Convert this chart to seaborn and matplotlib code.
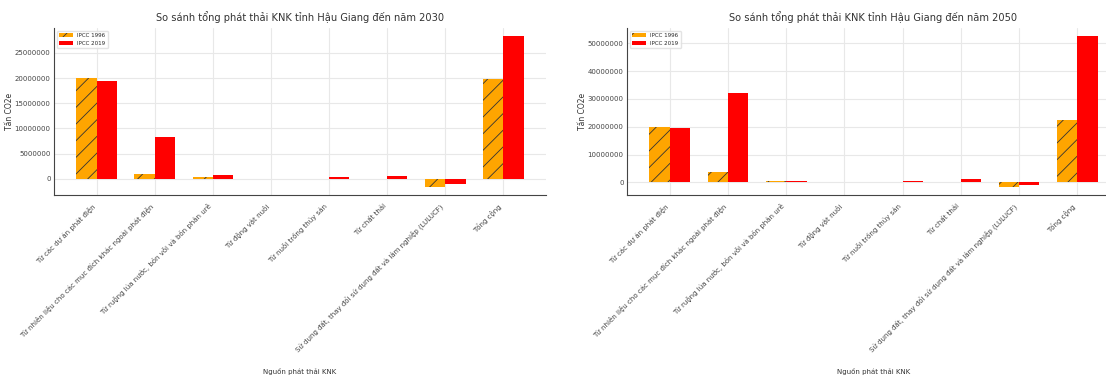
import numpy as np
import pandas as pd
import matplotlib
matplotlib.use('Agg')
import matplotlib.pyplot as plt
from matplotlib.ticker import FuncFormatter
import seaborn as sns

# data
categories = ['Từ các dự án phát điện',
              'Từ nhiên liệu cho các mục đích khác ngoài phát điện',
              'Từ ruộng lúa nước, bón vôi và bón phân urê',
              'Từ động vật nuôi',
              'Từ nuôi trồng thủy sản',
              'Từ chất thải',
              'Sử dụng đất, thay đổi sử dụng đất và lâm nghiệp (LULUCF)',
              'Tổng cộng']
methods = ['IPCC 1996', 'IPCC 2019']
ipcc1996_2030 = [20000000, 1000000, 400000, 50000, 0, 0, -1700000, 19750000]
ipcc2019_2030 = [19500000, 8400000, 800000, 0, 300000, 500000, -1100000, 28450000]
ipcc1996_2050 = [20000000, 3600000, 400000, 300000, 0, 0, -1800000, 22300000]
ipcc2019_2050 = [19500000, 32300000, 500000, 300000, 600000, 1300000, -1100000, 52800000]
titles = ['So sánh tổng phát thải KNK tỉnh Hậu Giang đến năm 2030',
          'So sánh tổng phát thải KNK tỉnh Hậu Giang đến năm 2050']

sns.set_style('whitegrid', {'axes.edgecolor': '#444444', 'grid.color': '#e8e8e8'})
plt.rcParams['font.family'] = ['DejaVu Sans']
plt.rcParams['hatch.linewidth'] = 0.6
plt.rcParams['hatch.color'] = '#333333'

fig = plt.figure(figsize=(11.06, 3.78), dpi=100)
ax1 = fig.add_axes([54/1106, 1-195/378, 492/1106, 167/378])
ax2 = fig.add_axes([627/1106, 1-195/378, 493/1106, 167/378])

panels = [(ax1, ipcc1996_2030, ipcc2019_2030, titles[0]),
          (ax2, ipcc1996_2050, ipcc2019_2050, titles[1])]

for ax, v96, v19, title in panels:
    df = pd.DataFrame({'Nguồn': categories * 2,
                       'Giá trị': v96 + v19,
                       'Phương pháp': [methods[0]] * len(categories) + [methods[1]] * len(categories)})
    sns.barplot(data=df, x='Nguồn', y='Giá trị', hue='Phương pháp', palette=['orange', 'red'],
                width=0.7, ax=ax, legend=False, saturation=1, edgecolor='none', linewidth=0)
    for p in ax.containers[0].patches:
        p.set_hatch('//')
        p.set_edgecolor('#333333')
        p.set_linewidth(0)
    ax.legend(handles=list(ax.containers[:2]), labels=methods, loc='upper left',
              fontsize=4, frameon=True, framealpha=0.8, edgecolor='#dddddd', handlelength=2.5)
    ax.set_title(title, fontsize=7.1, color='#333333', pad=5)
    ax.set_ylabel('Tấn CO2e', fontsize=5.5, color='#333333', labelpad=0.5)
    ax.set_xlabel('Nguồn phát thải KNK', fontsize=5, color='#333333', labelpad=10)
    ax.yaxis.set_major_formatter(FuncFormatter(lambda v, pos: '%d' % v))
    ax.set_xticks(range(len(categories)))
    ax.set_xticklabels(categories, rotation=45, ha='right', fontsize=5, color='#444444')
    ax.tick_params(axis='y', labelsize=5, colors='#444444', length=1.5, pad=1)
    ax.tick_params(axis='x', length=2, colors='#444444')
    ax.grid(True, axis='x', color='#e8e8e8')
    ax.set_xlim(-0.735, 7.735)
    sns.despine(ax=ax)
    for s in ['left', 'bottom']:
        ax.spines[s].set_linewidth(0.8)

fig.savefig('out.png', dpi=100)
